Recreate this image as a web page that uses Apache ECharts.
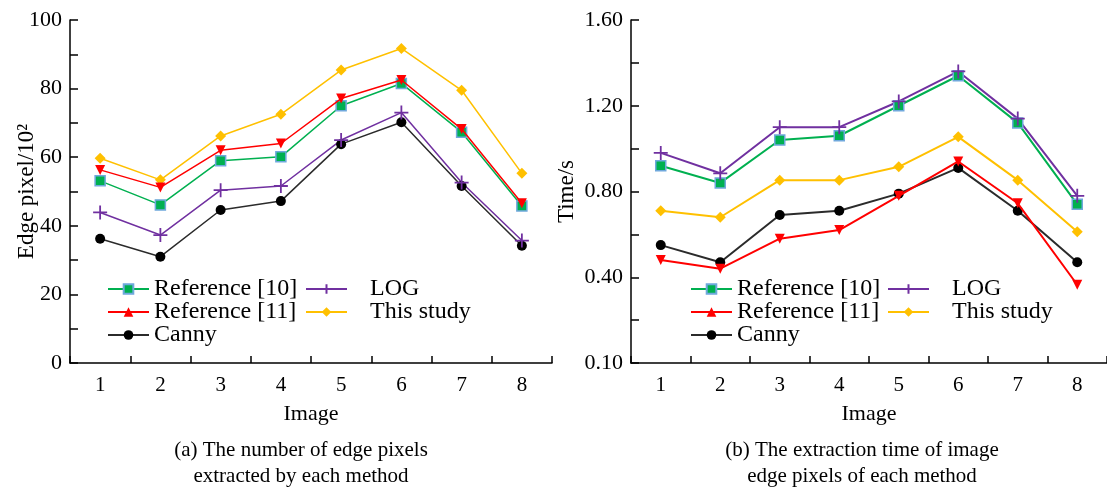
<!DOCTYPE html>
<html>
<head>
<meta charset="utf-8">
<script src="https://cdn.jsdelivr.net/npm/echarts@6/dist/echarts.min.js"></script>
<style>
  html, body { margin: 0; padding: 0; background: #fff; }
  #chart { width: 1107px; height: 491px; }
</style>
</head>
<body>
<div id="chart"></div>
<script>
// image index on both x axes
const images = ['1', '2', '3', '4', '5', '6', '7', '8']

// (a) number of edge pixels, unit 10^2
const pixRef10 = [53.1, 46.1, 59.0, 60.1, 75.0, 81.5, 67.3, 45.8]
const pixRef11 = [56.3, 51.2, 62.0, 64.0, 77.1, 82.5, 68.2, 46.6]
const pixCanny = [36.2, 31.0, 44.6, 47.2, 63.8, 70.2, 51.6, 34.2]
const pixLog = [43.9, 37.3, 50.4, 51.6, 65.0, 73.0, 52.6, 35.7]
const pixOurs = [59.7, 53.4, 66.2, 72.5, 85.4, 91.7, 79.5, 55.3]

// (b) extraction time, seconds
const timeRef10 = [0.92, 0.84, 1.04, 1.06, 1.20, 1.34, 1.12, 0.74]
const timeRef11 = [0.48, 0.44, 0.58, 0.62, 0.78, 0.94, 0.745, 0.365]
const timeCanny = [0.55, 0.47, 0.69, 0.71, 0.79, 0.91, 0.71, 0.47]
const timeLog = [0.98, 0.885, 1.10, 1.10, 1.22, 1.36, 1.14, 0.78]
const timeOurs = [0.71, 0.68, 0.853, 0.853, 0.915, 1.055, 0.853, 0.612]

// bottom tick of (b) is printed as 0.10 in the source figure
const timeYTicks = ['0.10', '0.40', '0.80', '1.20', '1.60']

const font = 'Liberation Serif'
const plusPath = 'path://M0,5L10,5M5,0L5,10'

const styles = {
  'Reference [10]': { color: '#00b050', symbol: 'rect', size: 10, border: '#6fa8dc' },
  'Reference [11]': { color: '#ff0000', symbol: 'triangle', size: 10, rotate: 180 },
  'Canny': { color: '#000000', line: '#2b2b2b', symbol: 'circle', size: 10 },
  'LOG': { color: '#7030a0', symbol: plusPath, size: 14, stroke: true },
  'This study': { color: '#ffc000', symbol: 'diamond', size: 11 }
}

function makeSeries(name, data, idx, width) {
  const s = styles[name]
  return {
    name: name,
    type: 'line',
    xAxisIndex: idx,
    yAxisIndex: idx,
    data: data,
    symbol: s.symbol,
    symbolSize: s.size,
    symbolRotate: s.rotate || 0,
    lineStyle: { color: s.line || s.color, width: width },
    itemStyle: {
      color: s.color,
      borderColor: s.border || s.color,
      borderWidth: s.stroke ? 1.8 : (s.border ? 1.5 : 0)
    },
    z: name === 'Reference [11]' ? 3 : 2,
    animation: false
  }
}

function yAxisBase(idx) {
  return {
    type: 'value',
    gridIndex: idx,
    min: 0,
    axisLine: { show: true, lineStyle: { color: '#000', width: 1.5 } },
    axisTick: { show: true, inside: true, length: 8, lineStyle: { color: '#000', width: 1.5 } },
    minorTick: { show: true, splitNumber: 2, length: 8, lineStyle: { color: '#000', width: 1.5 } },
    splitLine: { show: false },
    axisLabel: { color: '#000', fontFamily: font, fontSize: 22, margin: 8 },
    nameLocation: 'middle',
    nameRotate: 90,
    nameMoveOverlap: false,
    nameTextStyle: { color: '#000', fontFamily: font, fontSize: 23 }
  }
}

function xAxisBase(idx) {
  return {
    type: 'category',
    gridIndex: idx,
    data: images,
    boundaryGap: true,
    axisLine: { show: true, lineStyle: { color: '#000', width: 1.5 } },
    axisTick: { show: true, inside: true, length: 7, lineStyle: { color: '#000', width: 1.5 } },
    axisLabel: { color: '#000', fontFamily: font, fontSize: 21, margin: 12 },
    name: 'Image',
    nameLocation: 'middle',
    nameGap: 40,
    nameTextStyle: { color: '#000', fontFamily: font, fontSize: 22 }
  }
}

function legendBlock(names, left, pad) {
  return {
    orient: 'vertical',
    left: left,
    top: 277,
    padding: 0,
    itemWidth: 41,
    itemHeight: 12,
    itemGap: -1,
    symbolRotate: 0,
    data: names,
    formatter: name => pad + name,
    textStyle: { color: '#000', fontFamily: font, fontSize: 24, lineHeight: 22 }
  }
}

const chart = echarts.init(document.getElementById('chart'))

const left = yAxisBase(0)
left.max = 100
left.interval = 20
left.name = 'Edge pixel/10²'
left.nameGap = 32

const right = yAxisBase(1)
right.max = 1.6
right.interval = 0.4
right.name = 'Time/s'
right.nameGap = 53
right.axisLabel.formatter = v => timeYTicks[Math.round(v / 0.4)]

const captionFont = '21px "' + font + '"'

chart.setOption({
  backgroundColor: '#fff',
  grid: [
    { left: 70, top: 20, width: 482, bottom: 128 },
    { left: 631, top: 20, width: 482, bottom: 128 }
  ],
  xAxis: [xAxisBase(0), xAxisBase(1)],
  yAxis: [left, right],
  legend: [
    legendBlock(['Reference [10]', 'Reference [11]', 'Canny'], 107, ''),
    legendBlock(['LOG', 'This study'], 305, '   '),
    legendBlock(['Reference [10]', 'Reference [11]', 'Canny'], 690, ''),
    legendBlock(['LOG', 'This study'], 887, '   ')
  ],
  graphic: [
    { type: 'text', x: 301, y: 450, style: { text: '(a) The number of edge pixels', font: captionFont, fill: '#000', align: 'center', verticalAlign: 'middle' } },
    { type: 'text', x: 301, y: 476, style: { text: 'extracted by each method', font: captionFont, fill: '#000', align: 'center', verticalAlign: 'middle' } },
    { type: 'text', x: 862, y: 450, style: { text: '(b) The extraction time of image', font: captionFont, fill: '#000', align: 'center', verticalAlign: 'middle' } },
    { type: 'text', x: 862, y: 476, style: { text: 'edge pixels of each method', font: captionFont, fill: '#000', align: 'center', verticalAlign: 'middle' } }
  ],
  series: [
    makeSeries('Reference [10]', pixRef10, 0, 1.5),
    makeSeries('Reference [11]', pixRef11, 0, 1.5),
    makeSeries('Canny', pixCanny, 0, 1.5),
    makeSeries('LOG', pixLog, 0, 1.5),
    makeSeries('This study', pixOurs, 0, 1.5),
    makeSeries('Reference [10]', timeRef10, 1, 2),
    makeSeries('Reference [11]', timeRef11, 1, 2),
    makeSeries('Canny', timeCanny, 1, 2),
    makeSeries('LOG', timeLog, 1, 2),
    makeSeries('This study', timeOurs, 1, 2)
  ]
})
</script>
</body>
</html>
